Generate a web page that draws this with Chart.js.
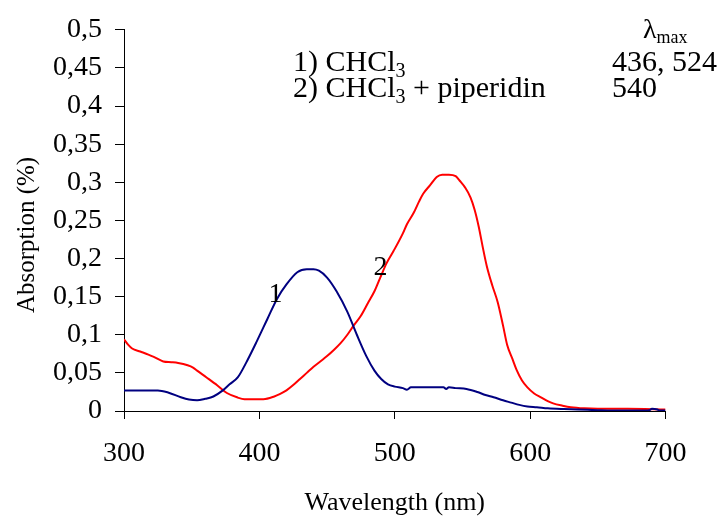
<!DOCTYPE html>
<html>
<head>
<meta charset="utf-8">
<script src="https://cdn.jsdelivr.net/npm/chart.js@4.4.1/dist/chart.umd.min.js"></script>
<style>
html,body{margin:0;padding:0;background:#fff;}
canvas{display:block;}
</style>
</head>
<body>
<canvas id="c" width="720" height="518"></canvas>
<script>
// Curve 1: CHCl3 (wavelength nm, absorption)
const wl1 = [300,310,325,333,342,348,354,360,366,373,378,384,391,398,406,413,420,428,435,440,444,450,457,465,472,479,485,490,495,500,506,509,512,520,530,536,538,540,545,553,561,567,573,580,586,592,598,605,613,625,635,650,660,680,688,690,694,696,700];
const abs1 = [0.027,0.027,0.027,0.024,0.018,0.015,0.014,0.016,0.019,0.027,0.035,0.044,0.066,0.091,0.121,0.147,0.166,0.182,0.186,0.186,0.184,0.175,0.157,0.130,0.100,0.072,0.053,0.042,0.035,0.032,0.030,0.028,0.031,0.031,0.031,0.031,0.029,0.031,0.030,0.029,0.025,0.021,0.018,0.014,0.011,0.008,0.006,0.005,0.0035,0.0025,0.002,0.001,0.0005,0.0005,0.001,0.003,0.002,0.0005,0.0005];
// Curve 2: CHCl3 + piperidin
const wl2 = [300,303,306,312,318,322,329,335,340,347,351,354,361,369,376,384,389,395,403,411,415,420,425,430,435,440,445,450,455,460,465,470,475,480,485,490,494,499,506,509,514,518,521,526,531,535,540,545,548,552,556,559,562,565,568,572,576,580,583,587,590,594,598,603,608,613,617,624,630,640,650,672,700];
const abs2 = [0.094,0.087,0.082,0.078,0.074,0.071,0.065,0.064,0.063,0.060,0.057,0.053,0.044,0.0335,0.0236,0.0176,0.0155,0.0155,0.0155,0.019,0.022,0.027,0.034,0.042,0.050,0.058,0.065,0.072,0.080,0.089,0.100,0.113,0.125,0.141,0.157,0.178,0.194,0.2095,0.233,0.245,0.260,0.275,0.285,0.296,0.307,0.310,0.310,0.308,0.302,0.293,0.280,0.264,0.242,0.215,0.190,0.165,0.143,0.112,0.087,0.068,0.054,0.040,0.031,0.023,0.018,0.013,0.010,0.007,0.005,0.0035,0.003,0.003,0.002];

const xTitle = 'Wavelength (nm)';
const yTitle = 'Absorption (%)';
const legendLines = ['1) CHCl', '2) CHCl'];
const legendTail = ['', ' + piperidin'];
const lambdaValues = ['436, 524', '540'];
const curveLabels = ['1', '2'];

const SERIF = '"Liberation Serif", "Times New Roman", serif';

function fmt(v){
  return Number(v.toFixed(2)).toString().replace('.', ',');
}

const textPlugin = {
  id: 'texts',
  afterDraw(chart){
    const ctx = chart.ctx;
    const xs = chart.scales.x, ys = chart.scales.y;
    ctx.save();
    ctx.fillStyle = '#000';
    // y title
    ctx.save();
    ctx.translate(27, 235);
    ctx.rotate(-Math.PI/2);
    ctx.font = '25px ' + SERIF;
    ctx.textAlign = 'center';
    ctx.textBaseline = 'middle';
    ctx.fillText(yTitle, 0, 0);
    ctx.restore();

    ctx.textAlign = 'left';
    ctx.textBaseline = 'alphabetic';
    // lambda max header
    ctx.font = '28px ' + SERIF;
    ctx.fillText('λ', 643, 38);
    const lw = ctx.measureText('λ').width;
    ctx.font = '18px ' + SERIF;
    ctx.fillText('max', 643 + lw, 43);

    // legend lines
    const baselines = [71, 97];
    for (let i = 0; i < 2; i++){
      let x = 293;
      ctx.font = '30px ' + SERIF;
      ctx.fillText(legendLines[i], x, baselines[i]);
      x += ctx.measureText(legendLines[i]).width;
      ctx.font = '20px ' + SERIF;
      ctx.fillText('3', x, baselines[i] + 6);
      x += ctx.measureText('3').width;
      ctx.font = '30px ' + SERIF;
      ctx.fillText(legendTail[i], x, baselines[i]);
      ctx.fillText(lambdaValues[i], 612, baselines[i]);
    }

    // curve labels
    ctx.font = '28px ' + SERIF;
    ctx.textAlign = 'center';
    ctx.textBaseline = 'middle';
    ctx.fillText(curveLabels[0], xs.getPixelForValue(412), ys.getPixelForValue(0.153));
    ctx.fillText(curveLabels[1], xs.getPixelForValue(489.5), ys.getPixelForValue(0.188));
    ctx.restore();
  }
};

const ds1 = wl1.map((x,i)=>({x:x, y:abs1[i]}));
const ds2 = wl2.map((x,i)=>({x:x, y:abs2[i]}));

new Chart(document.getElementById('c'), {
  type: 'line',
  data: {
    datasets: [
      {label:'1', data: ds1, borderColor:'#000080', borderWidth:2, pointRadius:0, cubicInterpolationMode:'monotone', fill:false},
      {label:'2', data: ds2, borderColor:'#ff0000', borderWidth:2, pointRadius:0, cubicInterpolationMode:'monotone', fill:false}
    ]
  },
  options: {
    responsive: false,
    devicePixelRatio: 1,
    animation: false,
    layout: {padding: {left:0, right:54.5, top:22.7, bottom:0}},
    plugins: {legend:{display:false}, tooltip:{enabled:false}},
    scales: {
      x: {
        type: 'linear', min: 300, max: 700,
        afterFit(s){ s.height = 107; },
        ticks: {stepSize: 100, color:'#000', font:{family:SERIF, size:28}, padding:18, maxRotation:0},
        grid: {drawOnChartArea:false, drawTicks:true, tickLength:8, color:'#000', lineWidth:1},
        border: {color:'#000', width:1},
        title: {display:true, text:xTitle, color:'#000', font:{family:SERIF, size:26, lineHeight:1.15}, padding:{top:0,bottom:0}}
      },
      y: {
        type: 'linear', min: 0, max: 0.5,
        afterFit(s){ s.width = 124; },
        ticks: {stepSize: 0.05, color:'#000', font:{family:SERIF, size:28}, padding:13, callback:(v)=>fmt(v)},
        grid: {drawOnChartArea:false, drawTicks:true, tickLength:9, color:'#000', lineWidth:1},
        border: {color:'#000', width:1}
      }
    }
  },
  plugins: [textPlugin]
});
</script>
</body>
</html>
